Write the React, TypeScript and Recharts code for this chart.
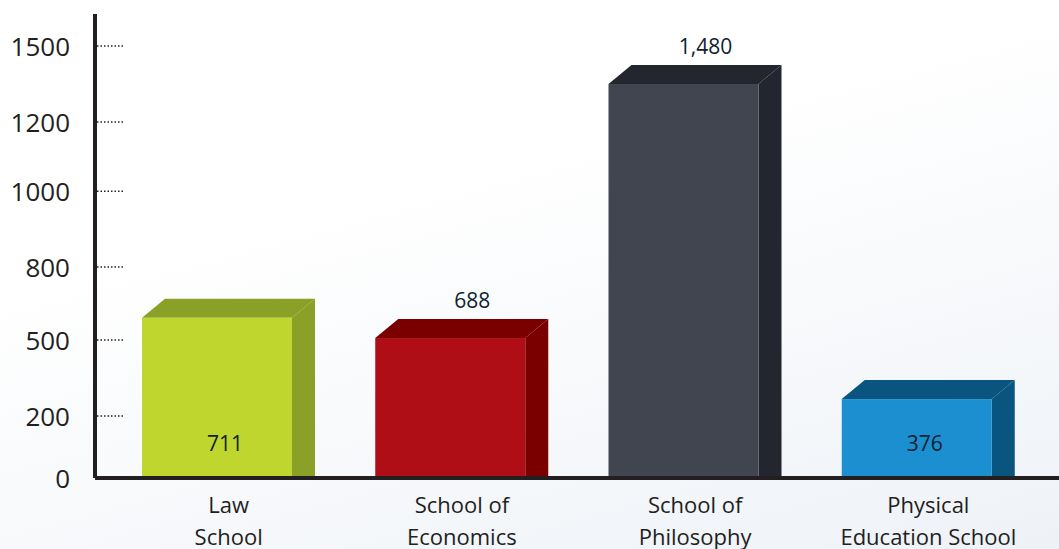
import React from 'react';
import { BarChart, Bar, XAxis, YAxis } from 'recharts';

// categories and what is printed on each bar
const schools = ['Law School', 'School of Economics', 'School of Philosophy', 'Physical Education School'];
const labelLines = [['Law', 'School'], ['School of', 'Economics'], ['School of', 'Philosophy'], ['Physical', 'Education School']];
const shownValues = ['711', '688', '1,480', '376'];
const labelInside = [true, false, false, true];
// bar heights as drawn against the axis (the printed numbers don't match the drawing)
const barLevels = [556, 486, 1368, 274];
// axis tick levels as they sit on the axis, and what they are labelled
const tickLevels = [0, 215, 479, 733, 996, 1236, 1500];
const tickLabels = ['0', '200', '500', '800', '1000', '1200', '1500'];

const frontColors = ['#bfd62f', '#b00e17', '#41454f', '#1b8fcf'];
const darkColors = ['#8aa026', '#7a0000', '#23252f', '#0a5580'];

const data = schools.map((s, i) => ({ name: s, level: barLevels[i] }));

const FONT = '"Open Sans", sans-serif';
const AXIS_COLOR = '#231f20';
const SIDE = 23;
const DEPTH = 19;

const ThreeDBar = (props: any) => {
  const { x, y, width, height, index } = props;
  const fw = width - SIDE;
  const bottom = y + height;
  const front = frontColors[index];
  const dark = darkColors[index];
  const top = `${x},${y} ${x + SIDE},${y - DEPTH} ${x + width},${y - DEPTH} ${x + fw},${y}`;
  const side = `${x + fw},${y} ${x + width},${y - DEPTH} ${x + width},${bottom} ${x + fw},${bottom}`;
  return (
    <g>
      <polygon points={top} fill={dark} />
      <polygon points={side} fill={dark} />
      <rect x={x} y={y} width={fw} height={height} fill={front} />
      {labelInside[index] ? (
        <text x={x + 83} y={bottom - 27} textAnchor="middle" fontFamily={FONT} fontSize={21} fill="#0f2230">
          {shownValues[index]}
        </text>
      ) : (
        <text x={x + 97} y={y - DEPTH - 11} textAnchor="middle" fontFamily={FONT} fontSize={21} fill="#0f2230">
          {shownValues[index]}
        </text>
      )}
    </g>
  );
};

const YTick = (props: any) => {
  const { x, y, index } = props;
  return (
    <g>
      <text x={x} y={y + 10} textAnchor="end" fontFamily={FONT} fontSize={26} fill={AXIS_COLOR}>
        {tickLabels[index]}
      </text>
      {index > 0 && (
        <line x1={x + 27} x2={x + 53} y1={y} y2={y} stroke={AXIS_COLOR} strokeWidth={1.5} strokeDasharray="1.5 2" />
      )}
    </g>
  );
};

const XTick = (props: any) => {
  const { x, y, index } = props;
  const lines = labelLines[index] || [];
  return (
    <g>
      <text x={x} y={y + 35} textAnchor="middle" fontFamily={FONT} fontSize={22} fill={AXIS_COLOR}>
        {lines[0]}
      </text>
      <text x={x} y={y + 67} textAnchor="middle" fontFamily={FONT} fontSize={22} fill={AXIS_COLOR}>
        {lines[1]}
      </text>
    </g>
  );
};

export default function App() {
  return (
    <div
      style={{
        width: 1059,
        height: 549,
        overflow: 'hidden',
        background: 'linear-gradient(165deg, #ffffff 35%, #eef2f7 100%)',
      }}
    >
      <style>{'body{margin:0}'}</style>
      <BarChart width={1059} height={549} data={data} margin={{ top: 14, right: 0, left: 0, bottom: 0 }}>
        <XAxis
          dataKey="name"
          height={71}
          padding={{ left: 17, right: 14 }}
          axisLine={{ stroke: AXIS_COLOR, strokeWidth: 4 }}
          tickLine={false}
          tickSize={0}
          tickMargin={0}
          interval={0}
          tick={<XTick />}
        />
        <YAxis
          width={95}
          domain={[0, 1611]}
          ticks={tickLevels}
          interval={0}
          axisLine={{ stroke: AXIS_COLOR, strokeWidth: 4 }}
          tickLine={false}
          tickSize={0}
          tickMargin={25}
          tick={<YTick />}
        />
        <Bar dataKey="level" barSize={173} shape={<ThreeDBar />} isAnimationActive={false} />
      </BarChart>
    </div>
  );
}
